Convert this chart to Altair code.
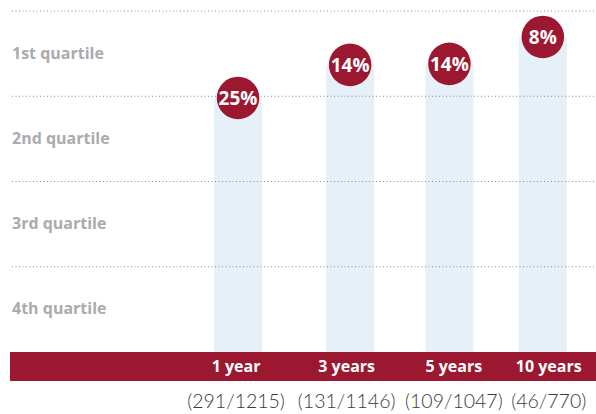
import altair as alt
import pandas as pd

# ---- data ----
periods = ["1 year", "3 years", "5 years", "10 years"]
pct_labels = ["25%", "14%", "14%", "8%"]
levels = [74.5, 84.2, 84.5, 92.4]          # percentile rank position (0 = bottom, 100 = top)
counts = ["(291/1215)", "(131/1146)", "(109/1047)", "(46/770)"]
quartiles = ["1st quartile", "2nd quartile", "3rd quartile", "4th quartile"]
quartile_mid = [87.5, 62.5, 37.5, 12.5]
quartile_lines = [100, 75, 50, 25]

# layout (horizontal centres in px): columns and their labels
x_center = [237, 351, 452, 547]
label_center = [235, 347.5, 456.5, 553]

W, H = 596, 414
RED = "#9c1830"

df = pd.DataFrame({"period": periods, "pct": pct_labels, "level": levels,
                   "count": counts, "x": x_center, "lx": label_center})
dq = pd.DataFrame({"q": quartiles, "mid": quartile_mid})
dl = pd.DataFrame({"line": quartile_lines})

xs = alt.Scale(domain=[0, W], range=[0, W])
ys = alt.Scale(domain=[-18.18, 103.23], range=[H, 0])

base = alt.Chart(df).transform_calculate(
    zero="0", per_y="-4.4", cnt_y="-14.8"
)

X = alt.X("x:Q", scale=xs, axis=None)
LX = alt.X("lx:Q", scale=xs, axis=None)

bars = base.mark_bar(size=48, color="#e5f0f8").encode(
    x=X,
    y=alt.Y("level:Q", scale=ys, axis=None),
    y2="zero:Q",
)

lines = alt.Chart(dl).mark_rule(color="#8a8a8a", strokeDash=[1, 2.5], strokeWidth=1).encode(
    y=alt.Y("line:Q", scale=ys, axis=None),
    x=alt.value(12), x2=alt.value(W),
)

band = alt.Chart(dl).transform_filter("datum.line == 100").transform_calculate(
    top="0", bot="-8.5"
).mark_rect(color=RED).encode(
    y=alt.Y("top:Q", scale=ys, axis=None), y2="bot:Q",
    x=alt.value(10), x2=alt.value(W),
)

circles = base.mark_circle(size=1810, color=RED, opacity=1).encode(
    x=X,
    y=alt.Y("level:Q", scale=ys, axis=None),
)

pct_text = base.mark_text(color="white", font="Open Sans", fontWeight="bold", fontSize=19,
                          baseline="middle", dy=1).encode(
    x=X,
    y=alt.Y("level:Q", scale=ys, axis=None),
    text="pct:N",
)

period_text = base.mark_text(color="white", font="Open Sans", fontWeight="bold", fontSize=16,
                             baseline="middle").encode(
    x=LX,
    y=alt.Y("per_y:Q", scale=ys, axis=None),
    text="period:N",
)

count_text = base.mark_text(color="#3a3a3a", font="Lato", fontWeight=300, fontSize=19.5,
                            baseline="middle").encode(
    x=LX,
    y=alt.Y("cnt_y:Q", scale=ys, axis=None),
    text="count:N",
)

q_text = alt.Chart(dq).mark_text(color="#a9abae", font="Open Sans", fontWeight="bold", fontSize=16,
                                 align="left", baseline="middle").encode(
    x=alt.value(12),
    y=alt.Y("mid:Q", scale=ys, axis=None),
    text="q:N",
)

chart = alt.layer(bars, lines, band, circles, pct_text, period_text, count_text, q_text).properties(
    width=W, height=H, padding=0, autosize=alt.AutoSizeParams(type="none"),
).configure_view(stroke=None)

chart.save("out.html", embed_options={"renderer": "svg", "actions": False})
